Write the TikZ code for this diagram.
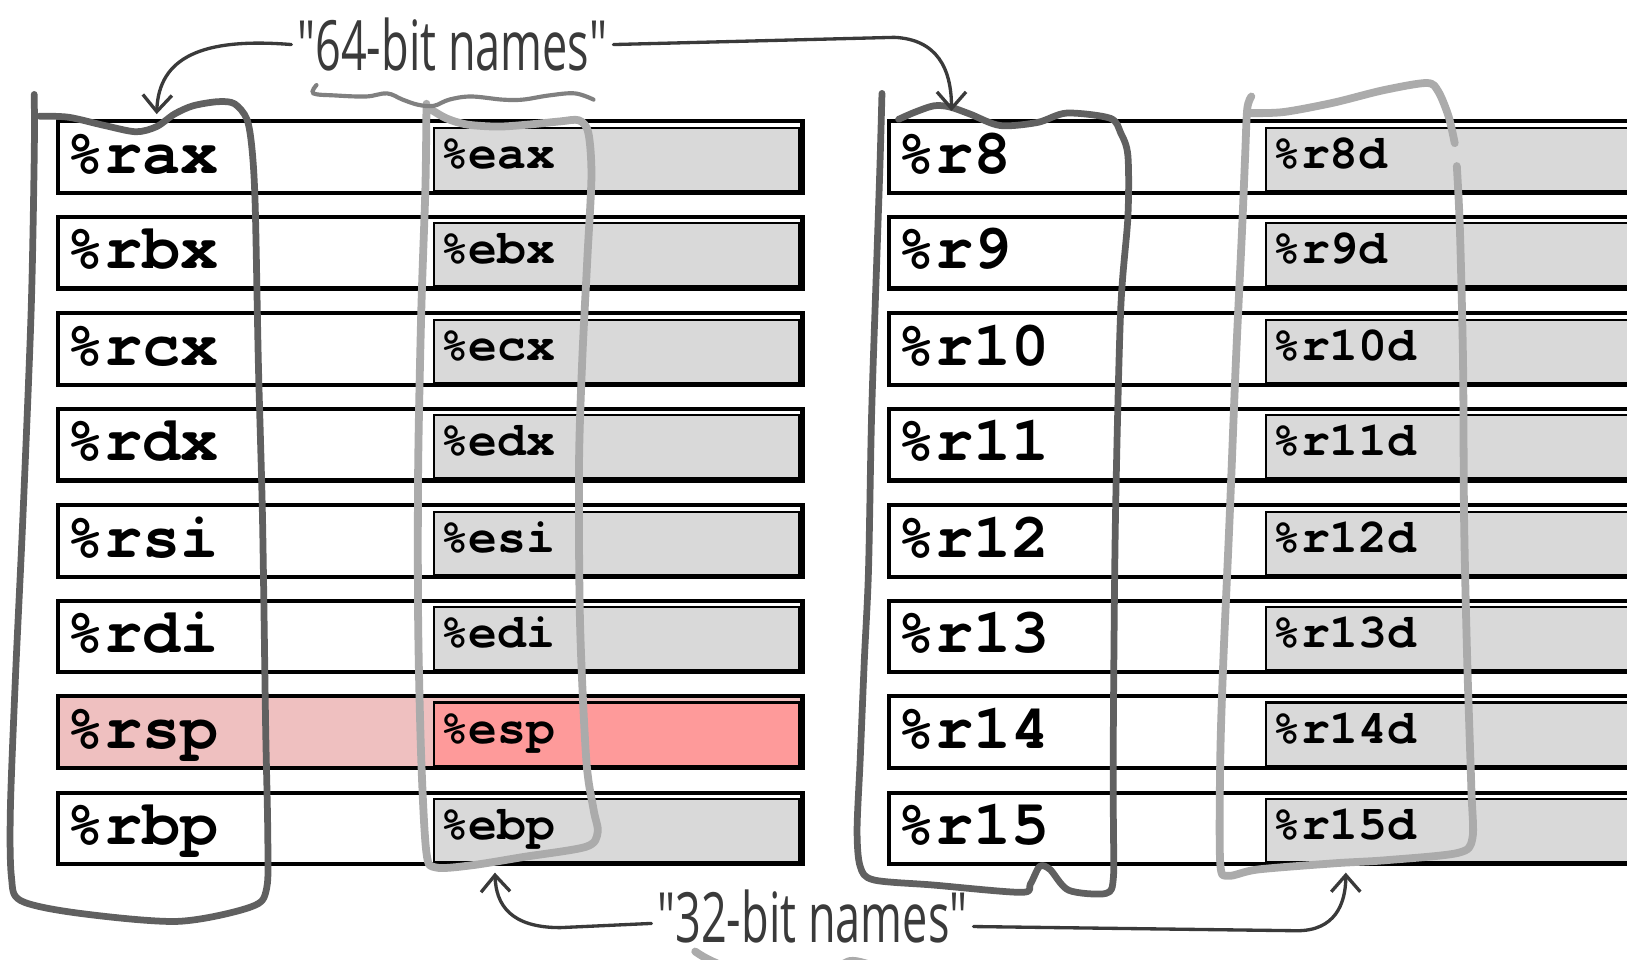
\documentclass[tikz,border=0pt]{standalone}
\usepackage{fontspec}
\usepackage{xcolor}
\usepackage{tikz}
\usetikzlibrary{positioning,calc,arrows.meta}

\newfontfamily\regfont{TeX Gyre Cursor}
\newfontfamily\handfont{Open Sans}[FakeStretch=0.65]

\definecolor{regpink}{HTML}{EFC0C0}
\definecolor{regred}{HTML}{FE9A9A}
\definecolor{reggrey}{HTML}{D9D9D9}
\definecolor{loopdark}{HTML}{606060}
\definecolor{looplight}{HTML}{ABABAB}
\definecolor{inkdark}{HTML}{3A3A3A}

\tikzset{
	reg64/.style={draw=black, line width=0.04cm, fill=white, anchor=north west,
		inner xsep=0.08cm, inner ysep=0pt, minimum height=0.69cm, align=left,
		text height=0.42cm, text depth=0.11cm,
		font={\regfont\bfseries\fontsize{17.4}{20}\selectfont}},
	reg32/.style={draw=black, line width=0.6pt, fill=reggrey, anchor=north west,
		inner xsep=0.06cm, inner ysep=0pt, minimum height=0.61cm, align=left,
		text height=0.30cm, text depth=0.13cm,
		font={\regfont\bfseries\fontsize{13.2}{16}\selectfont}},
	darkloop/.style={draw=loopdark, line width=0.065cm, line cap=round, line join=round},
	lightloop/.style={draw=looplight, line width=0.075cm, line cap=round, line join=round},
	callout/.style={draw=inkdark, line width=0.032cm, line cap=round,
		-{Straight Barb[length=0.16cm,width=0.28cm]}},
	handlbl/.style={font={\handfont\fontsize{19}{22}\selectfont}, text=inkdark, inner sep=0.05cm}
}

\begin{document}
\begin{tikzpicture}[x=0.01cm, y=-0.01cm]
	\useasboundingbox (0,0) rectangle (1568,925);

	% 64-bit registers, left bank
	\node[reg64, text width=7.01cm] (rax) at (54,115) {\%rax};
	\node[reg64, text width=7.01cm] (rbx) at (54,207) {\%rbx};
	\node[reg64, text width=7.01cm] (rcx) at (54,300) {\%rcx};
	\node[reg64, text width=7.01cm] (rdx) at (54,392) {\%rdx};
	\node[reg64, text width=7.01cm] (rsi) at (54,485) {\%rsi};
	\node[reg64, text width=7.01cm] (rdi) at (54,577) {\%rdi};
	\node[reg64, text width=7.01cm, fill=regpink] (rsp) at (54,669) {\%rsp};
	\node[reg64, text width=7.01cm] (rbp) at (54,762) {\%rbp};

	% low halves
	\node[reg32, text width=3.40cm] (eax) at (417,122) {\%eax};
	\node[reg32, text width=3.40cm] (ebx) at (417,214) {\%ebx};
	\node[reg32, text width=3.40cm] (ecx) at (417,307) {\%ecx};
	\node[reg32, text width=3.40cm] (edx) at (417,399) {\%edx};
	\node[reg32, text width=3.40cm] (esi) at (417,492) {\%esi};
	\node[reg32, text width=3.40cm] (edi) at (417,584) {\%edi};
	\node[reg32, text width=3.40cm, fill=regred] (esp) at (417,676) {\%esp};
	\node[reg32, text width=3.40cm] (ebp) at (417,769) {\%ebp};

	% 64-bit registers, right bank
	\node[reg64, text width=7.29cm] (r8)  at (855,115) {\%r8};
	\node[reg64, text width=7.29cm] (r9)  at (855,207) {\%r9};
	\node[reg64, text width=7.29cm] (r10) at (855,300) {\%r10};
	\node[reg64, text width=7.29cm] (r11) at (855,392) {\%r11};
	\node[reg64, text width=7.29cm] (r12) at (855,485) {\%r12};
	\node[reg64, text width=7.29cm] (r13) at (855,577) {\%r13};
	\node[reg64, text width=7.29cm] (r14) at (855,669) {\%r14};
	\node[reg64, text width=7.29cm] (r15) at (855,762) {\%r15};

	\node[reg32, text width=3.69cm] (r8d)  at (1219,122) {\%r8d};
	\node[reg32, text width=3.69cm] (r9d)  at (1219,214) {\%r9d};
	\node[reg32, text width=3.69cm] (r10d) at (1219,307) {\%r10d};
	\node[reg32, text width=3.69cm] (r11d) at (1219,399) {\%r11d};
	\node[reg32, text width=3.69cm] (r12d) at (1219,492) {\%r12d};
	\node[reg32, text width=3.69cm] (r13d) at (1219,584) {\%r13d};
	\node[reg32, text width=3.69cm] (r14d) at (1219,676) {\%r14d};
	\node[reg32, text width=3.69cm] (r15d) at (1219,769) {\%r15d};

	% hand-drawn loops
	\draw[darkloop] plot[smooth, tension=0.5] coordinates {
		(33,91) (33,150) (30,300) (22,500) (15,650) (10,780) (11,845) (20,868)
		(75,880) (171,888) (242,874) (257,856) (258,800) (256,700) (253,500)
		(249,350) (246,200) (243,145) (238,115) (226,100) (210,98) (186,102)
		(168,110) (151,122) (131,127) (101,121) (66,113) (38,112)};
	\draw[lightloop] plot[smooth, tension=0.5] coordinates {
		(413,104) (430,114) (450,120) (480,122) (510,120) (540,117) (558,116)
		(567,128) (570,170) (566,250) (561,350) (558,450) (559,600) (565,732)
		(572,780) (576,802) (565,816) (504,826) (454,834) (420,836) (411,822)
		(406,732) (403,600) (403,450) (406,300) (410,180) (411,100)};
	\draw[darkloop] plot[smooth, tension=0.5] coordinates {
		(850,90) (848,161) (845,250) (840,400) (837,550) (833,636) (829,732)
		(826,800) (829,835) (842,848) (900,853) (984,860) (993,852) (1002,835)
		(1012,838) (1030,858) (1066,861) (1073,846) (1073,790) (1073,700)
		(1075,500) (1080,300) (1087,209) (1087,150) (1080,128) (1070,114)
		(1028,109) (1000,118) (964,121) (935,110) (915,103) (900,102) (882,108) (866,115)};
	\draw[lightloop] plot[smooth, tension=0.5] coordinates {
		(1206,93) (1202,105) (1200,150) (1197,222) (1191,350) (1185,500)
		(1179,636) (1176,732) (1176,832) (1184,844) (1212,838) (1286,832)
		(1336,829) (1405,822) (1419,808) (1418,760) (1414,636) (1411,500)
		(1410,350) (1407,222) (1404,160)};
	\draw[lightloop] plot[smooth, tension=0.5] coordinates {
		(1402,138) (1396,112) (1386,88) (1375,80) (1333,87) (1285,99)
		(1237,108) (1205,109)};

	% scribbles under the labels
	\draw[draw=gray, line width=0.04cm, line cap=round] plot[smooth, tension=0.6] coordinates {
		(305,82) (302,90) (323,92) (353,93) (373,90) (388,96) (403,101) (418,102)
		(433,96) (454,93) (484,96) (504,96) (529,92) (554,90) (572,96)};
	\draw[lightloop] plot[smooth, tension=0.6] coordinates {
		(670,917) (690,928) (740,946) (800,934) (822,926) (850,934)};

	% labels and arrows
	\node[handlbl, anchor=base] (lbl64) at (436,68) {"64-bit names"};
	\node[handlbl, anchor=base] (lbl32) at (783,908) {"32-bit names"};

	\coordinate (tip64L) at (151,110);
	\coordinate (tip64R) at (917,107);
	\coordinate (tip32L) at (477,841);
	\coordinate (tip32R) at (1297,841);

	\draw[callout] (lbl64.west) .. controls (195,36) and (153,55) .. (tip64L);
	\draw[callout] (lbl64.east) -- (862,36) .. controls (903,38) and (917,66) .. (tip64R);
	\draw[callout] ([yshift=-0.07cm]lbl32.west) -- (540,894) .. controls (492,894) and (478,872) .. (tip32L);
	\draw[callout] ([yshift=-0.1cm]lbl32.east) -- (1250,897) .. controls (1286,897) and (1297,872) .. (tip32R);
\end{tikzpicture}
\end{document}
